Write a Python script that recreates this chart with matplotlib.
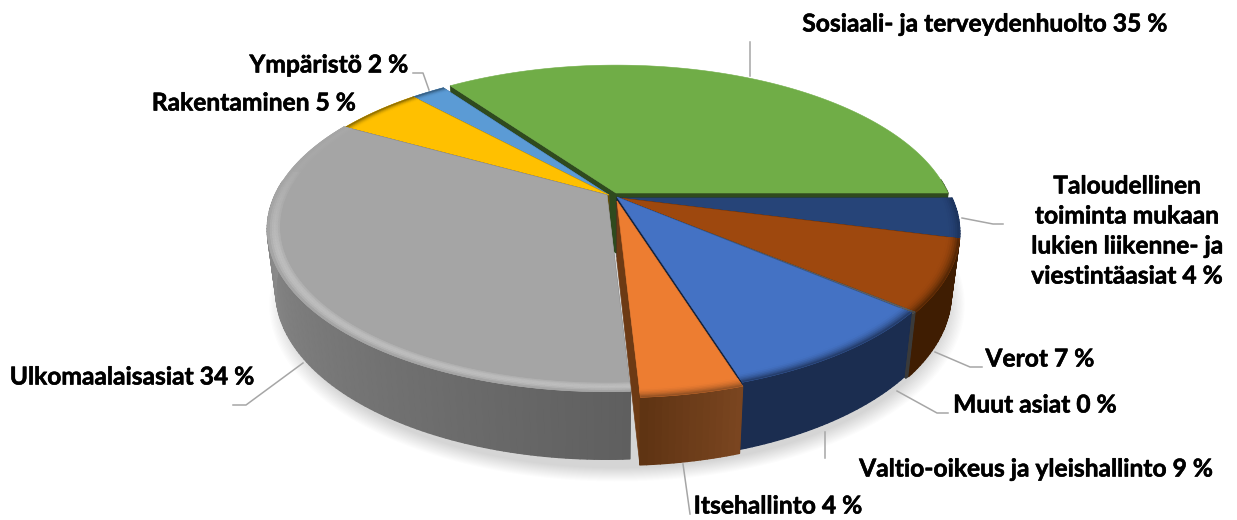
import numpy as np
import matplotlib
matplotlib.use("Agg")
import matplotlib.pyplot as plt
import matplotlib.patheffects as pe
from matplotlib.collections import PolyCollection
from matplotlib.colors import to_rgb

# shares in percent, clockwise from 3 o'clock, the last slice ends at 3 o'clock
names = ["Talous", "Verot", "Muut", "Valtio", "Itsehallinto", "Ulkomaalais", "Rakentaminen", "Ymparisto", "Sosiaali"]
values = [4, 7, 0.15, 9, 4, 34, 5, 2, 35]
top_colors = ["#264478", "#9E480E", "#636363", "#4472C4", "#ED7D31", "#A5A5A5", "#FFC000", "#5B9BD5", "#70AD47"]
wall_a = ["#1A3056", "#3F1D02", "#3A3A3A", "#1B2D50", "#7A4520", "#5F5F5F", "#665000", "#2A4A66", "#2F4A1E"]
wall_b = ["#1A3056", "#3F1D02", "#3A3A3A", "#1B2D50", "#5F3413", "#9C9C9C", "#665000", "#2A4A66", "#2F4A1E"]
cut_colors = ["#14233F", "#3F1D02", "#3A3A3A", "#14233F", "#6D3A14", "#6A6A6A", "#665000", "#24425F", "#2F4A1E"]
offsets = [(5, 0), (5, 0), (4, 0), (2, -1), (2, 3), (-8, -3), (-6, -3), (-6, -3), (1, -5)]
draw_order = [8, 7, 6, 0, 1, 2, 3, 4, 5]

labels = ["Taloudellinen\ntoiminta mukaan\nlukien liikenne- ja\nviestintäasiat 4 %",
          "Verot 7 %", "Muut asiat 0 %", "Valtio-oikeus ja yleishallinto 9 %",
          "Itsehallinto 4 %", "Ulkomaalaisasiat 34 %", "Rakentaminen 5 %", "Ympäristö 2 %",
          "Sosiaali- ja terveydenhuolto 35 %"]
label_pos = [(1127, 231), (1040, 359), (1035, 405), (1036, 469), (778, 506), (132, 377), (254, 103), (329, 65), (985, 24)]
leaders = [[(962, 218), (993, 224), (1003, 224)],
           [(935, 352), (970, 367), (982, 367)],
           [(897, 391), (937, 413), (948, 413)],
           [(825, 432), (825, 458)],
           [(683, 464), (690, 514)],
           [(303, 363), (246, 405), (233, 405)],
           [],
           [(413, 73), (423, 73), (429, 90)],
           [(750, 42), (750, 76)]]

cx, cy = 615, 198
a, b, k = 332, 155, 0.212
depth = 60


def project(theta, r=1.0):
    u = r * np.cos(theta)
    v = r * np.sin(theta)
    w = 1 - k * v
    return a * u / w, b * v / w, w


def lower(x, y, w):
    return x * 0.975, y + depth / w ** 0.5


def mix(c1, c2, t):
    c1, c2 = np.array(to_rgb(c1)), np.array(to_rgb(c2))
    return tuple(c1 + (c2 - c1) * t)


shares = np.array(values) / np.sum(values) * 2 * np.pi
edges = np.concatenate([[0], np.cumsum(shares)])

fig = plt.figure(figsize=(12.37, 5.2), dpi=100)
ax = fig.add_axes([0, 0, 1, 1])
ax.set_xlim(0, 1237)
ax.set_ylim(520, 0)
ax.axis("off")

# soft shadow under the pie
t = np.linspace(0, 2 * np.pi, 240)
sx, sy, sw = project(t)
sx, sy = lower(sx, sy, sw)
for grow in np.linspace(1.05, 1.0, 14):
    ax.fill(cx + 2 + sx * grow, cy + 6 + sy * grow, color="black", alpha=0.012, lw=0, zorder=1)

z = 2
for i in draw_order:
    t0, t1 = edges[i], edges[i + 1]
    ox, oy = offsets[i]
    t = np.linspace(t0, t1, max(3, int(np.degrees(t1 - t0)) + 2))
    x, y, w = project(t)
    xl, yl = lower(x, y, w)
    x0 = ox + cx
    y0 = oy + cy

    # cut faces
    ax0, ay0 = lower(0, 0, 1)
    for j in (0, -1):
        poly = [(x0, y0), (x0 + x[j], y0 + y[j]), (x0 + xl[j], y0 + yl[j]), (x0 + ax0, y0 + ay0)]
        ax.fill(*zip(*poly), color=cut_colors[i], lw=0.5, zorder=z)

    # outer wall, shaded along the arc, back part stays hidden
    seen = np.sin(t) > -0.1
    quads = []
    cols = []
    for j in range(len(t) - 1):
        if seen[j] and seen[j + 1]:
            quads.append([(x0 + x[j], y0 + y[j]), (x0 + x[j + 1], y0 + y[j + 1]),
                          (x0 + xl[j + 1], y0 + yl[j + 1]), (x0 + xl[j], y0 + yl[j])])
            cols.append(mix(wall_a[i], wall_b[i], j / max(1, len(t) - 2)))
    if quads:
        ax.fill(np.r_[x0 + x[seen], x0 + xl[seen][::-1]], np.r_[y0 + y[seen], y0 + yl[seen][::-1]],
                color=wall_a[i], lw=0, zorder=z)
        ax.add_collection(PolyCollection(quads, facecolors=cols, edgecolors=cols, linewidths=1.0, zorder=z))

    # top face
    ax.fill(np.r_[x0, x0 + x], np.r_[y0, y0 + y], color=top_colors[i], lw=0.4, zorder=z)

    # bevel along the rim
    rim = "#BEBEBE" if names[i] == "Ulkomaalais" else mix(top_colors[i], wall_a[i], 0.75)
    radii = np.linspace(0.965, 1.0, 7)
    for n in range(len(radii) - 1):
        px, py, _ = project(t, radii[n])
        qx, qy, _ = project(t, radii[n + 1])
        s = (n + 1) / (len(radii) - 1)
        if names[i] == "Ulkomaalais":
            # highlight only on the front part
            for j in range(len(t) - 1):
                front = np.clip(np.sin(t[j]) * 1.4 + 0.5, 0, 1) if t[j] < np.pi * 1.05 else 0.15
                c = mix(top_colors[i], rim, np.sin(s * np.pi) * front)
                ax.fill([x0 + px[j], x0 + px[j + 1], x0 + qx[j + 1], x0 + qx[j]],
                        [y0 + py[j], y0 + py[j + 1], y0 + qy[j + 1], y0 + qy[j]], color=c, lw=0.4, zorder=z)
        elif names[i] != "Sosiaali":
            c = mix(top_colors[i], rim, s ** 2)
            ax.fill(np.r_[x0 + px, x0 + qx[::-1]], np.r_[y0 + py, y0 + qy[::-1]], color=c, lw=0.3, zorder=z)
    z += 1

for pts in leaders:
    if pts:
        ax.plot(*zip(*pts), color="#A6A6A6", lw=1.1, zorder=z)

for text, (lx, ly) in zip(labels, label_pos):
    ax.text(lx, ly, text, ha="center", va="center", family="Lato", weight="bold",
            fontsize=17.7, color="black", linespacing=1.37, zorder=z + 1,
            path_effects=[pe.withStroke(linewidth=0.4, foreground="black")])

fig.savefig("out.png", dpi=100)
